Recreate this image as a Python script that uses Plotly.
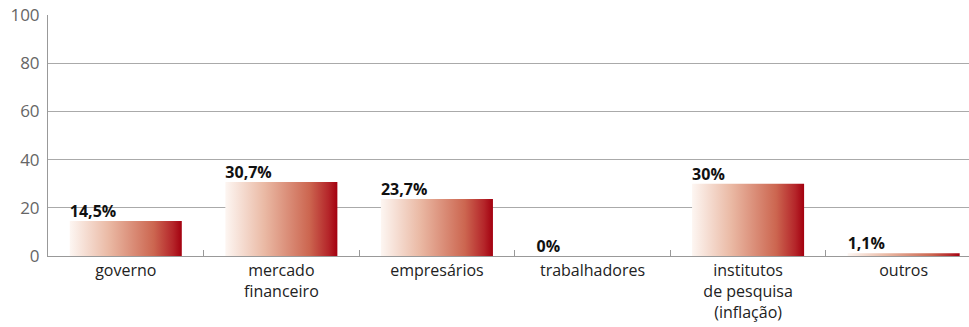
import plotly.graph_objects as go

categories = ["governo", "mercado<br>financeiro", "empresários", "trabalhadores",
              "institutos<br>de pesquisa<br>(inflação)", "outros"]
values = [14.5, 30.7, 23.7, 0, 30.0, 1.1]
value_labels = ["14,5%", "30,7%", "23,7%", "0%", "30%", "1,1%"]
y_ticks = [0, 20, 40, 60, 80, 100]

BAR_W = 0.72
grad = [[0, "#fdf6f2"], [0.35, "#eab9a4"], [0.75, "#cc6650"], [0.92, "#b5262a"], [1, "#a3000f"]]

fig = go.Figure()
for i, v in enumerate(values):
    x0, x1 = i - BAR_W / 2, i + BAR_W / 2
    fig.add_trace(go.Scatter(
        x=[x0, x1, x1, x0, x0], y=[0, 0, v, v, 0],
        mode="lines", line=dict(width=0), fill="toself",
        fillgradient=dict(type="horizontal", colorscale=grad),
        hoverinfo="skip", showlegend=False))

fig.add_trace(go.Scatter(
    x=[i - BAR_W / 2 for i in range(len(values))], y=values,
    mode="text", text=value_labels, textposition="top right",
    textfont=dict(family="Open Sans", size=16, color="#111", weight="bold"),
    showlegend=False, hoverinfo="skip"))

fig.update_layout(
    width=969, height=327,
    margin=dict(l=48, r=0, t=15, b=71),
    paper_bgcolor="white", plot_bgcolor="white",
    font=dict(family="Open Sans", color="#333"),
    xaxis=dict(range=[-0.5, 5.42], tickvals=list(range(len(categories))),
               ticktext=categories, ticks="", showgrid=False, zeroline=False,
               showline=True, linecolor="#999", linewidth=1,
               tickfont=dict(size=16, color="#222"),
               minor=dict(tickmode="array", tickvals=[i + 0.5 for i in range(len(categories) - 1)],
                          ticks="inside", ticklen=6, tickcolor="#999", tickwidth=1, showgrid=False)),
    yaxis=dict(range=[0, 100], tickvals=y_ticks, ticks="", showgrid=True,
               gridcolor="#aaa", gridwidth=1, zeroline=False,
               showline=True, linecolor="#999", linewidth=1,
               tickfont=dict(size=17, color="#666"), ticklabelstandoff=4),
)
fig.write_html("out.html")
